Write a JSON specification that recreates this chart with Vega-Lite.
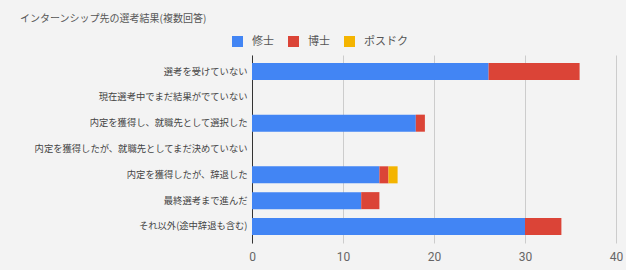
{
  "$schema": "https://vega.github.io/schema/vega-lite/v6.json",
  "width": 364,
  "height": 188,
  "autosize": {"type": "none"},
  "padding": {"left": 252, "top": 55, "right": 10, "bottom": 27},
  "background": "#f3f3f3",
  "title": {
    "text": "インターンシップ先の選考結果(複数回答)",
    "anchor": "start",
    "frame": "group",
    "dx": -232,
    "offset": 7,
    "baseline": "middle",
    "font": "Noto Sans CJK JP",
    "fontSize": 10,
    "fontWeight": "normal",
    "color": "#555555"
  },
  "config": {
    "view": {"stroke": null},
    "font": "Noto Sans CJK JP"
  },
  "data": {
    "values": [
      {"category": "選考を受けていない", "degree": "修士", "count": 26},
      {"category": "選考を受けていない", "degree": "博士", "count": 10},
      {"category": "内定を獲得し、就職先として選択した", "degree": "修士", "count": 18},
      {"category": "内定を獲得し、就職先として選択した", "degree": "博士", "count": 1},
      {"category": "内定を獲得したが、辞退した", "degree": "修士", "count": 14},
      {"category": "内定を獲得したが、辞退した", "degree": "博士", "count": 1},
      {"category": "内定を獲得したが、辞退した", "degree": "ポスドク", "count": 1},
      {"category": "最終選考まで進んだ", "degree": "修士", "count": 12},
      {"category": "最終選考まで進んだ", "degree": "博士", "count": 2},
      {"category": "それ以外(途中辞退も含む)", "degree": "修士", "count": 30},
      {"category": "それ以外(途中辞退も含む)", "degree": "博士", "count": 4}
    ]
  },
  "transform": [
    {"calculate": "indexof(['修士', '博士', 'ポスドク'], datum.degree)", "as": "stackRank"}
  ],
  "mark": {"type": "bar"},
  "encoding": {
    "y": {
      "field": "category",
      "type": "nominal",
      "scale": {
        "domain": [
          "選考を受けていない",
          "現在選考中でまだ結果がでていない",
          "内定を獲得し、就職先として選択した",
          "内定を獲得したが、就職先としてまだ決めていない",
          "内定を獲得したが、辞退した",
          "最終選考まで進んだ",
          "それ以外(途中辞退も含む)"
        ],
        "paddingInner": 0.34,
        "paddingOuter": 0.31
      },
      "axis": {
        "title": null,
        "ticks": false,
        "grid": false,
        "domain": true,
        "domainColor": "#333333",
        "domainWidth": 1,
        "labelFontSize": 9.3,
        "labelColor": "#444444",
        "labelPadding": 5,
        "labelLimit": 300
      }
    },
    "x": {
      "field": "count",
      "type": "quantitative",
      "stack": "zero",
      "scale": {"domain": [0, 40]},
      "axis": {
        "title": null,
        "values": [0, 10, 20, 30, 40],
        "domain": false,
        "ticks": false,
        "grid": true,
        "gridColor": "#cccccc",
        "labelFontSize": 12,
        "labelColor": "#666666",
        "labelPadding": 8,
        "labelFlush": false,
        "labelOverlap": false,
        "labelFont": "Roboto"
      }
    },
    "order": {"field": "stackRank", "type": "quantitative", "sort": "ascending"},
    "color": {
      "field": "degree",
      "type": "nominal",
      "sort": ["修士", "博士", "ポスドク"],
      "scale": {
        "domain": ["修士", "博士", "ポスドク"],
        "range": ["#4285f4", "#db4437", "#f4b400"]
      },
      "legend": {
        "title": null,
        "orient": "none",
        "direction": "horizontal",
        "legendX": -20,
        "legendY": -19,
        "symbolType": "square",
        "symbolSize": 121,
        "symbolStrokeWidth": 0,
        "symbolOpacity": 1,
        "labelFontSize": 11,
        "labelColor": "#555555",
        "labelOffset": 9,
        "columnPadding": 14
      }
    }
  }
}
